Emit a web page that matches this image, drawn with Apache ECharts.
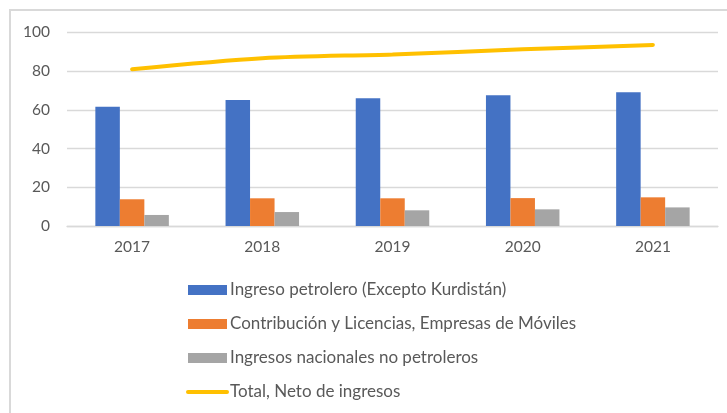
<!DOCTYPE html>
<html>
<head>
<meta charset="utf-8">
<script src="https://cdn.jsdelivr.net/npm/echarts@6/dist/echarts.min.js"></script>
<style>
  html, body { margin: 0; padding: 0; width: 727px; height: 413px; overflow: hidden; background: #fff; }
  #frame { position: absolute; left: 9px; top: 9px; width: 800px; height: 500px; border: 2px solid #d9d9d9; box-sizing: border-box; }
  #main { position: absolute; left: 0; top: 0; width: 727px; height: 413px; }
</style>
</head>
<body>
<div id="frame"></div>
<div id="main"></div>
<script>
// years on the x axis
const years = ['2017', '2018', '2019', '2020', '2021'];
// series values
const petrolero = [61.5, 65.0, 66.0, 67.5, 69.1];
const moviles = [13.8, 14.3, 14.3, 14.4, 14.8];
const noPetrolero = [5.7, 7.2, 8.1, 8.6, 9.6];
const totalNeto = [80.9, 86.6, 88.6, 91.2, 93.5];

const names = [
    'Ingreso petrolero (Excepto Kurdistán)',
    'Contribución y Licencias, Empresas de Móviles',
    'Ingresos nacionales no petroleros',
    'Total, Neto de ingresos'
];

let chartDom = document.getElementById('main');
let myChart = echarts.init(chartDom);
let font = 'Lato, "Open Sans", sans-serif';
let option = {
    animation: false,
    textStyle: { fontFamily: font },
    grid: { left: 67, right: 9, top: 32.3, bottom: 187 },
    legend: {
        orient: 'vertical',
        left: 186,
        top: 280,
        padding: 0,
        itemWidth: 39,
        itemHeight: 10,
        itemGap: 14,
        textStyle: { color: '#595959', fontSize: 17, lineHeight: 20, fontFamily: font, padding: [0, 0, 0, -2] },
        data: [
            { name: names[0], icon: 'rect' },
            { name: names[1], icon: 'rect' },
            { name: names[2], icon: 'rect' },
            // line item: hide the marker, keep a thick stroke
            {
                name: names[3],
                itemStyle: { color: 'rgba(0,0,0,0)', opacity: 0, borderWidth: 0 },
                lineStyle: { color: '#ffc000', width: 4, cap: 'round', opacity: 1 }
            }
        ]
    },
    xAxis: {
        type: 'category',
        data: years,
        axisLine: { lineStyle: { color: '#d9d9d9', width: 1.3 } },
        axisTick: { show: false },
        axisLabel: { color: '#595959', fontSize: 15.5, margin: 13 }
    },
    yAxis: {
        type: 'value',
        min: 0,
        max: 100,
        interval: 20,
        axisLine: { show: false },
        axisTick: { show: false },
        splitLine: { lineStyle: { color: '#d9d9d9', width: 1.3 } },
        axisLabel: { color: '#595959', fontSize: 15.5, margin: 17 }
    },
    series: [
        { name: names[0], type: 'bar', data: petrolero, barWidth: 24.5, barGap: '0%', itemStyle: { color: '#4472c4' } },
        { name: names[1], type: 'bar', data: moviles, barWidth: 24.5, barGap: '0%', itemStyle: { color: '#ed7d31' } },
        { name: names[2], type: 'bar', data: noPetrolero, barWidth: 24.5, barGap: '0%', itemStyle: { color: '#a5a5a5' } },
        {
            name: names[3],
            type: 'line',
            data: totalNeto,
            smooth: 0.3,
            symbol: 'none',
            showSymbol: false,
            lineStyle: { color: '#ffc000', width: 4, cap: 'round' },
            itemStyle: { color: '#ffc000' }
        }
    ]
};

option && myChart.setOption(option);
</script>
</body>
</html>
